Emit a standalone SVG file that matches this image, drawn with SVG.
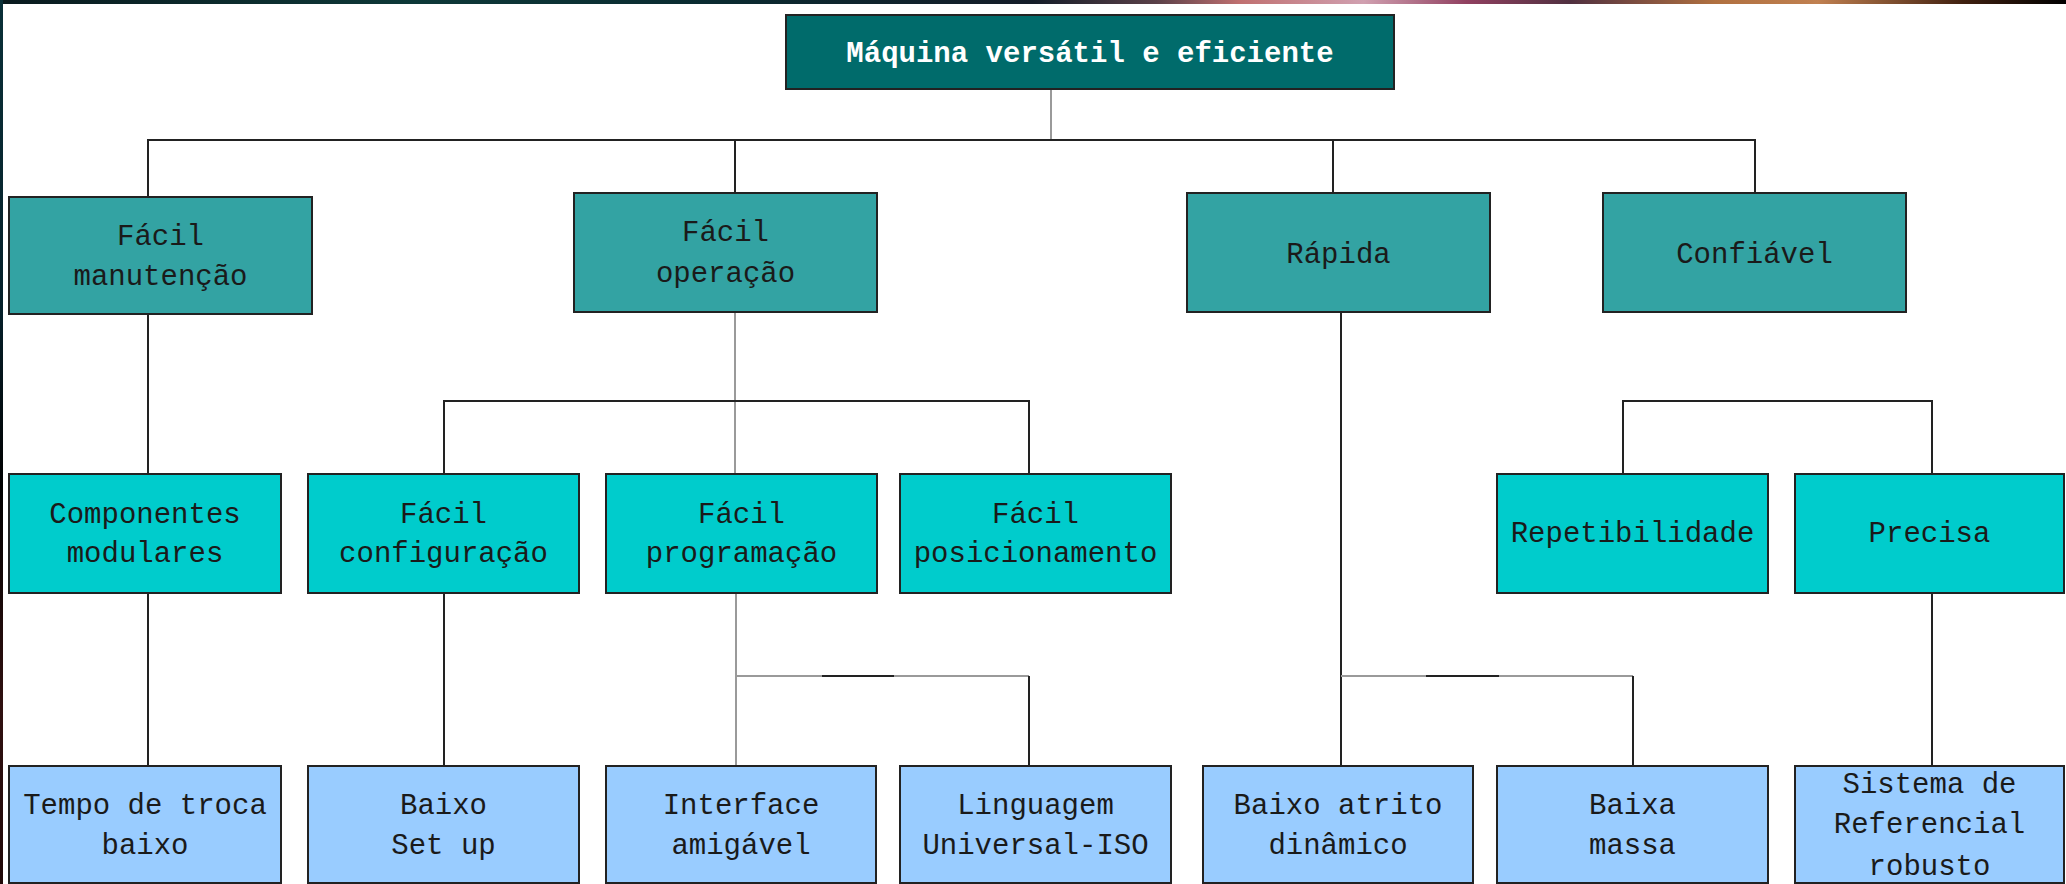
<svg xmlns="http://www.w3.org/2000/svg" width="2066" height="884" viewBox="0 0 2066 884">
  <defs>
    <linearGradient id="topBand" x1="0" y1="0" x2="2066" y2="0" gradientUnits="userSpaceOnUse">
      <stop offset="0" stop-color="#0a1a1e"/>
      <stop offset="0.2" stop-color="#0d3838"/>
      <stop offset="0.35" stop-color="#0a2a30"/>
      <stop offset="0.5" stop-color="#141c28"/>
      <stop offset="0.56" stop-color="#5a4048"/>
      <stop offset="0.6" stop-color="#c07070"/>
      <stop offset="0.66" stop-color="#d0a0b0"/>
      <stop offset="0.71" stop-color="#904060"/>
      <stop offset="0.76" stop-color="#503040"/>
      <stop offset="0.83" stop-color="#b07040"/>
      <stop offset="0.88" stop-color="#c08050"/>
      <stop offset="0.95" stop-color="#402010"/>
      <stop offset="1" stop-color="#000000"/>
    </linearGradient>
    <linearGradient id="leftBand" x1="0" y1="0" x2="0" y2="884" gradientUnits="userSpaceOnUse">
      <stop offset="0" stop-color="#0a3038"/>
      <stop offset="0.35" stop-color="#05202a"/>
      <stop offset="0.55" stop-color="#000000"/>
      <stop offset="0.8" stop-color="#301010"/>
      <stop offset="1" stop-color="#200808"/>
    </linearGradient>
  </defs>
  <style>
    .box { stroke: #222222; stroke-width: 2; }
    .root { fill: #006B6B; }
    .lvl1 { fill: #33A3A3; }
    .lvl2 { fill: #00CCCC; }
    .lvl3 { fill: #99CCFF; }
    text { font-family: "Liberation Mono", "DejaVu Sans Mono", monospace; font-size: 29px; fill: #1a1a1a; text-anchor: middle; }
    text.title { fill: #ffffff; font-weight: bold; }
    .wire { fill: none; stroke: #222222; stroke-width: 2; }
    .wire.soft { stroke: #9a9a9a; }
  </style>

  <!-- slide frame -->
  <rect x="0" y="0" width="2066" height="884" fill="#000000"/>
  <rect x="0" y="0" width="2066" height="4" fill="url(#topBand)"/>
  <rect x="0" y="0" width="3" height="884" fill="url(#leftBand)"/>
  <rect x="3" y="4" width="2063" height="880" fill="#ffffff"/>

  <!-- connectors -->
  <g id="connectors">
    <path class="wire soft" d="M1051 89 V140"/>
    <path class="wire" d="M148 197 V140 H1755 V193 M735 140 V193 M1333 140 V193"/>
    <path class="wire" d="M148 314 V474 M148 593 V766"/>
    <path class="wire soft" d="M735 312 V474"/>
    <path class="wire" d="M444 474 V401 H1029 V474"/>
    <path class="wire" d="M444 593 V766"/>
    <path class="wire soft" d="M736 593 V766 M736 676 H1029"/>
    <path class="wire" d="M822 676 H894 M1029 676 V766"/>
    <path class="wire" d="M1341 312 V766"/>
    <path class="wire soft" d="M1341 676 H1633"/>
    <path class="wire" d="M1426 676 H1499 M1633 676 V766"/>
    <path class="wire" d="M1623 474 V401 H1932 V474"/>
    <path class="wire" d="M1932 593 V766"/>
  </g>

  <!-- root -->
  <g id="maquina">
    <rect class="box root" x="786" y="15" width="608" height="74"/>
    <text class="title" x="1090" y="62">Máquina versátil e eficiente</text>
  </g>

  <!-- first level -->
  <g id="facil-manutencao">
    <rect class="box lvl1" x="9" y="197" width="303" height="117"/>
    <text x="160.5" y="245">Fácil</text>
    <text x="160.5" y="285">manutenção</text>
  </g>
  <g id="facil-operacao">
    <rect class="box lvl1" x="574" y="193" width="303" height="119"/>
    <text x="725.5" y="241">Fácil</text>
    <text x="725.5" y="282">operação</text>
  </g>
  <g id="rapida">
    <rect class="box lvl1" x="1187" y="193" width="303" height="119"/>
    <text x="1338.5" y="263">Rápida</text>
  </g>
  <g id="confiavel">
    <rect class="box lvl1" x="1603" y="193" width="303" height="119"/>
    <text x="1754.5" y="263">Confiável</text>
  </g>

  <!-- second level -->
  <g id="componentes-modulares">
    <rect class="box lvl2" x="9" y="474" width="272" height="119"/>
    <text x="145" y="523">Componentes</text>
    <text x="145" y="562">modulares</text>
  </g>
  <g id="facil-configuracao">
    <rect class="box lvl2" x="308" y="474" width="271" height="119"/>
    <text x="443.5" y="523">Fácil</text>
    <text x="443.5" y="562">configuração</text>
  </g>
  <g id="facil-programacao">
    <rect class="box lvl2" x="606" y="474" width="271" height="119"/>
    <text x="741.5" y="523">Fácil</text>
    <text x="741.5" y="562">programação</text>
  </g>
  <g id="facil-posicionamento">
    <rect class="box lvl2" x="900" y="474" width="271" height="119"/>
    <text x="1035.5" y="523">Fácil</text>
    <text x="1035.5" y="562">posicionamento</text>
  </g>
  <g id="repetibilidade">
    <rect class="box lvl2" x="1497" y="474" width="271" height="119"/>
    <text x="1632.5" y="542">Repetibilidade</text>
  </g>
  <g id="precisa">
    <rect class="box lvl2" x="1795" y="474" width="269" height="119"/>
    <text x="1929.5" y="542">Precisa</text>
  </g>

  <!-- third level -->
  <g id="tempo-troca">
    <rect class="box lvl3" x="9" y="766" width="272" height="117"/>
    <text x="145" y="814">Tempo de troca</text>
    <text x="145" y="854">baixo</text>
  </g>
  <g id="baixo-setup">
    <rect class="box lvl3" x="308" y="766" width="271" height="117"/>
    <text x="443.5" y="814">Baixo</text>
    <text x="443.5" y="854">Set up</text>
  </g>
  <g id="interface-amigavel">
    <rect class="box lvl3" x="606" y="766" width="270" height="117"/>
    <text x="741" y="814">Interface</text>
    <text x="741" y="854">amigável</text>
  </g>
  <g id="linguagem-iso">
    <rect class="box lvl3" x="900" y="766" width="271" height="117"/>
    <text x="1035.5" y="814">Linguagem</text>
    <text x="1035.5" y="854">Universal-ISO</text>
  </g>
  <g id="baixo-atrito">
    <rect class="box lvl3" x="1203" y="766" width="270" height="117"/>
    <text x="1338" y="814">Baixo atrito</text>
    <text x="1338" y="854">dinâmico</text>
  </g>
  <g id="baixa-massa">
    <rect class="box lvl3" x="1497" y="766" width="271" height="117"/>
    <text x="1632.5" y="814">Baixa</text>
    <text x="1632.5" y="854">massa</text>
  </g>
  <g id="sistema-referencial">
    <rect class="box lvl3" x="1795" y="766" width="269" height="117"/>
    <text x="1929.5" y="793">Sistema de</text>
    <text x="1929.5" y="833">Referencial</text>
    <text x="1929.5" y="875">robusto</text>
  </g>
</svg>
